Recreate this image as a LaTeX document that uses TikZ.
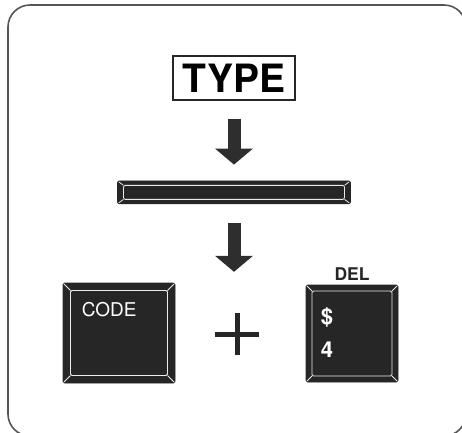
\documentclass[tikz,border=0pt]{standalone}
\usepackage{fontspec}
\setmainfont{TeX Gyre Heros}
\usepackage{tikz}
\usetikzlibrary{arrows.meta, positioning, calc}

\definecolor{keygray}{HTML}{262626}
\definecolor{arrowgray}{HTML}{2E2E2E}
\definecolor{framegray}{HTML}{555555}

\begin{document}
\begin{tikzpicture}[
    x=1pt, y=1pt,
    frame/.style={draw=framegray, line width=1.6pt, rounded corners=22pt},
    wordbox/.style={rectangle, draw=black!85, line width=1.1pt, minimum width=122pt, minimum height=44pt, inner sep=0pt, font=\fontsize{39}{40}\selectfont\bfseries},
    keycap/.style 2 args={rectangle, fill=keygray, draw=keygray, line width=0.6pt, rounded corners=1.5pt, inner sep=0pt,
        path picture={
            \draw[bevelline] ([shift={(#1,-#2)}]path picture bounding box.north west) rectangle ([shift={(-#1,#2)}]path picture bounding box.south east);
            \draw[bevelline] (path picture bounding box.north west) -- ++(#1,-#2);
            \draw[bevelline] (path picture bounding box.north east) -- ++(-#1,-#2);
            \draw[bevelline] (path picture bounding box.south west) -- ++(#1,#2);
            \draw[bevelline] (path picture bounding box.south east) -- ++(-#1,#2);
        }},
    bevelline/.style={draw=white!92!black, line width=0.8pt},
    keylabel/.style={text=white, inner sep=0pt, anchor=base west},
    bigarrow/.style={draw=arrowgray, line width=13pt, -{Triangle[width=38pt, length=16pt, line width=0pt]}},
    plusbar/.style={draw=keygray, line width=5pt}
]

\useasboundingbox (0,0) rectangle (462,-432);
\clip (0,0) rectangle (462,-432);
\draw[frame] (8,-5) rectangle (466,-436);

% Top: word and space bar
\node[wordbox] (type) at (234,-78) {TYPE};
\node[keycap={6}{4.5}, minimum width=233pt, minimum height=23pt, below=80pt of type] (space) {};

% Bottom: key combination
\node[keycap={7.5}{7.5}, minimum width=112pt, minimum height=100pt] (code) at (119,-333) {};
\node[keycap={6}{6}, minimum width=92pt, minimum height=97pt] (del) at (352,-333.5) {};
\node[inner sep=0pt, minimum width=44pt, minimum height=42pt] (plus) at (237,-334) {};

% Key legends
\node[keylabel, font=\fontsize{19}{20}\selectfont] (codetxt) at ([shift={(19,-34)}]code.north west) {CODE};
\node[keylabel, font=\fontsize{22}{24}\selectfont\bfseries] (dollar) at ([shift={(15,-40)}]del.north west) {\$};
\node[keylabel, font=\fontsize{22}{24}\selectfont\bfseries] (four) at ([shift={(15,-73)}]del.north west) {4};
\node[inner sep=0pt, font=\fontsize{17.5}{18}\selectfont\bfseries, text=black!85, above=4.5pt of del] (deltxt) {DEL};

% Plus sign
\draw[plusbar] (plus.west) -- (plus.east);
\draw[plusbar] (plus.north) -- (plus.south);

% Arrows
\draw[bigarrow, shorten <=18pt, shorten >=16pt] (type.south) -- (space.north);
\draw[bigarrow, shorten <=19pt, shorten >=41pt] (space.south) -- (space.south |- plus.north);

\end{tikzpicture}
\end{document}
